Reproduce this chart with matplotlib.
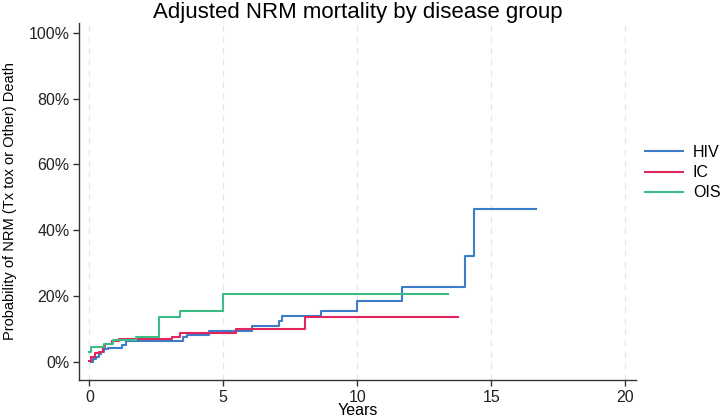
import matplotlib
matplotlib.use('Agg')
import matplotlib.pyplot as plt
from matplotlib.ticker import FuncFormatter

plt.rcParams['font.family'] = ['Liberation Sans', 'DejaVu Sans']

# step curves: time (years) and cumulative incidence (%)
hiv_t = [0.05, 0.15, 0.25, 0.35, 0.45, 0.55, 0.7, 1.2, 1.35, 3.5, 3.65, 4.47,
         6.08, 7.08, 7.2, 8.66, 10.0, 11.67, 14.03, 14.37, 16.66]
hiv_y = [0.1, 0.8, 1.6, 2.4, 3.1, 3.8, 4.3, 5.2, 6.2, 7.5, 8.2, 9.5,
         11.0, 12.3, 13.8, 15.6, 18.5, 22.9, 32.3, 46.5, 46.5]

ic_t = [0.0, 0.05, 0.2, 0.35, 0.5, 0.6, 0.85, 1.12, 3.07, 3.38, 5.47, 8.04, 13.77]
ic_y = [0.4, 1.6, 2.6, 3.1, 4.5, 5.5, 6.2, 7.0, 7.7, 8.7, 10.0, 13.5, 13.5]

ois_t = [0.0, 0.05, 0.55, 0.9, 1.75, 2.6, 3.4, 5.0, 13.4]
ois_y = [3.0, 4.6, 5.3, 6.7, 7.7, 13.5, 15.5, 20.7, 20.7]

groups = ['HIV', 'IC', 'OIS']
colors = ['#3d7cc9', '#e0265a', '#3dbb85']

x_ticks = [0, 5, 10, 15, 20]
y_ticks = [0, 20, 40, 60, 80, 100]

fig = plt.figure(figsize=(7.2, 4.18), dpi=100)
ax = fig.add_axes([0.110, 0.091, 0.773, 0.854])

handles = []
for t, y, name, c in zip([hiv_t, ic_t, ois_t], [hiv_y, ic_y, ois_y], groups, colors):
    h, = ax.step(t, y, where='post', color=c, linewidth=1.5, label=name)
    handles.append(h)

for xv in x_ticks:
    ax.axvline(xv, color='#e6e6e6', linestyle=(0, (5, 4)), linewidth=0.9, zorder=0)

ax.set_xlim(-0.38, 20.4)
ax.set_ylim(-5.5, 103)
ax.set_xticks(x_ticks)
ax.set_yticks(y_ticks)
ax.yaxis.set_major_formatter(FuncFormatter(lambda v, p: f'{int(v)}%'))

for side in ['top', 'right']:
    ax.spines[side].set_visible(False)
for side in ['left', 'bottom']:
    ax.spines[side].set_color('#333333')
    ax.spines[side].set_linewidth(1.0)
ax.tick_params(direction='out', length=4.5, width=1, color='#333333',
               labelsize=11.5, labelcolor='#222222', pad=2.5)

ax.set_xlabel('Years', fontsize=11.5, labelpad=-1)
ax.set_ylabel('Probability of NRM (Tx tox or Other) Death', fontsize=10.5, labelpad=8)
ax.set_title('Adjusted NRM mortality by disease group', fontsize=16, pad=1)

fig.legend(handles=handles, loc='upper left', bbox_to_anchor=(645 / 720, 1 - 145 / 418),
           frameon=False, borderpad=0, borderaxespad=0, fontsize=11.5,
           handlelength=2.4, handletextpad=0.6, labelspacing=0.32)

plt.savefig('out.png', dpi=100, facecolor='white')
plt.close()
